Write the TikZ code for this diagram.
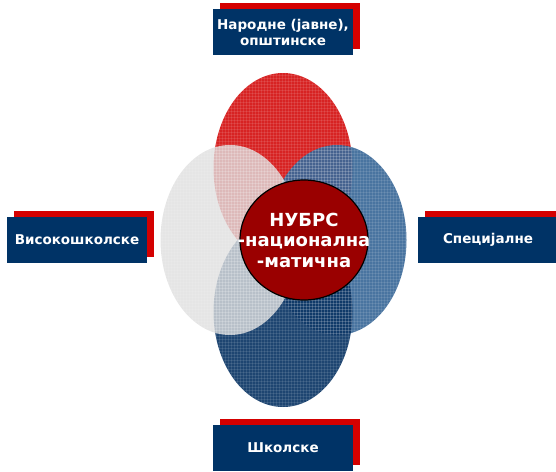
\documentclass[tikz,border=0pt]{standalone}
\usepackage{fontspec}
\setmainfont{DejaVu Sans}
\usetikzlibrary{shapes.geometric,shadows,patterns}
\definecolor{navy}{HTML}{003366}
\definecolor{flagred}{HTML}{D40000}
\definecolor{petalred}{HTML}{D41010}
\definecolor{midblue}{HTML}{3A6898}
\definecolor{darkblue}{HTML}{0B3565}
\definecolor{corered}{HTML}{9A0000}
\tikzset{
  petal/.style={ellipse, minimum width=139pt, minimum height=190pt, inner sep=0pt, fill opacity=0.92},
  labelbox/.style={rectangle, fill=navy, minimum width=140pt, minimum height=46pt, inner sep=0pt,
    text=white, font=\bfseries\fontsize{13.5}{16}\selectfont, align=center,
    drop shadow={shadow xshift=7pt, shadow yshift=6pt, fill=flagred, opacity=1}},
}
\begin{document}
\begin{tikzpicture}[x=1pt, y=-1pt]
\useasboundingbox (0,0) rectangle (556,471);
% petals
\node[petal, fill=petalred] (ptop) at (283,168){};
\node[petal, fill=midblue] (pright) at (337,240){};
\node[petal, fill=darkblue] (pbottom) at (283,312){};
\node[petal, fill=gray!25, fill opacity=0.8] (pleft) at (230,240){};
\foreach \p in {ptop,pright,pbottom,pleft}
  \fill[pattern=grid, pattern color=white, opacity=0.1] (\p.center) ellipse (69.5pt and 95pt);
% core
\node[ellipse, draw=black, line width=1.2pt, fill=corered, minimum width=128pt, minimum height=120pt,
  inner sep=0pt] (core) at (304,240){};
\node[text=white, align=center, inner sep=0pt, font=\bfseries\fontsize{18}{20.5}\selectfont] (coretext)
  at (core.center) {НУБРС\\-национална\\-матична};
% labels
\node[labelbox] (lib) at (283,32) {Народне (јавне),\\општинске};
\node[labelbox] (uni) at (77,240) {Високошколске};
\node[labelbox] (spec) at (488,240) {Специјалне};
\node[labelbox] (sch) at (283,448) {Школске};
\end{tikzpicture}
\end{document}
